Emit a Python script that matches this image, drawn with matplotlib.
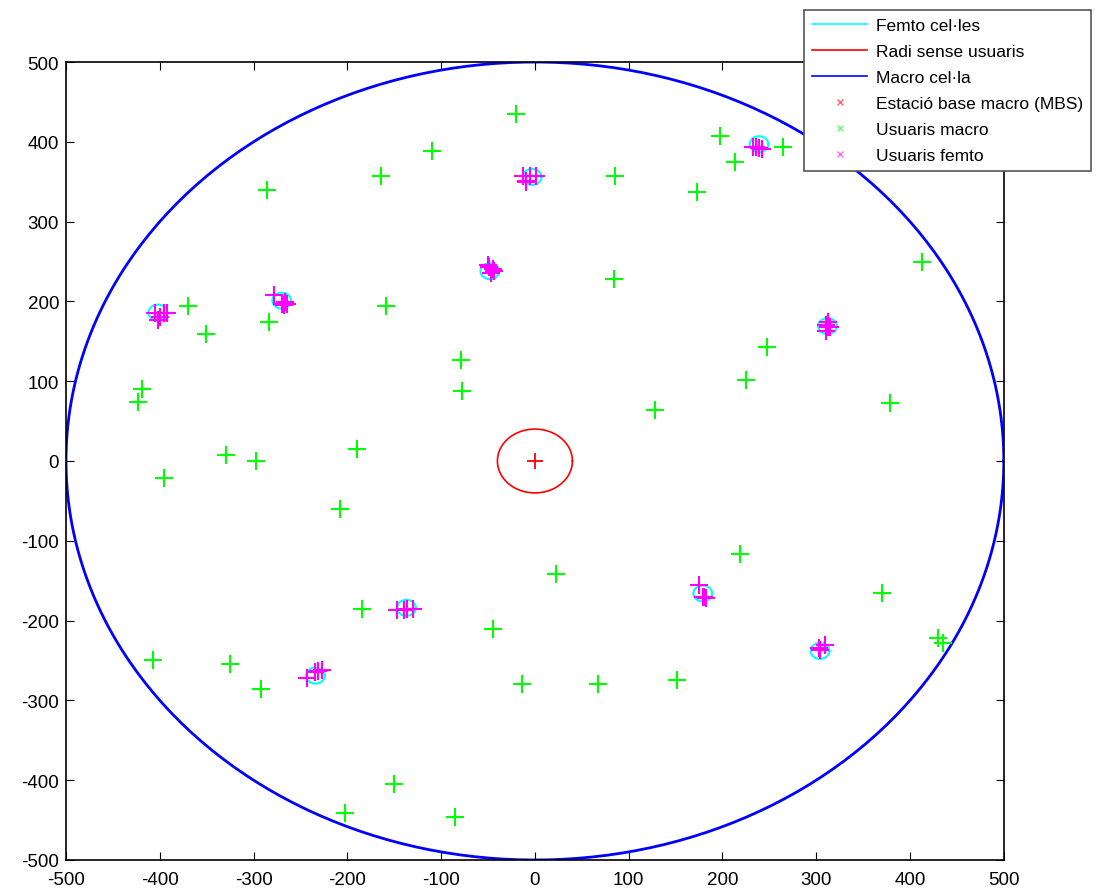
import numpy as np
import matplotlib.pyplot as plt
from matplotlib.lines import Line2D

plt.rcParams['font.family'] = ['Liberation Sans', 'DejaVu Sans']
plt.rcParams['axes.unicode_minus'] = False

# radis (m)
macro_radius = 500
no_user_radius = 40
femto_radius = 10

# estacions femto (centres)
femto_x = [-402, -270, -3, -48, 239, 312, 179, 304, -137, -234]
femto_y = [186, 201, 356, 238, 397, 169, -166, -238, -184, -269]

# usuaris macro
macro_ux = [-20, -110, 197, 213, 265, -164, 85, 173, -286, -370, -351, -284, -159,
            84, 413, 247, 225, -79, -78, 128, 379, -419, -423, -329, -297, -190,
            -396, -208, 23, 219, 370, -184, -45, -407, -325, -292, -14, 67, 151,
            430, 435, -150, -202, -85]
macro_uy = [435, 388, 407, 375, 393, 357, 357, 337, 340, 194, 159, 174, 194,
            228, 249, 143, 102, 127, 88, 64, 73, 90, 74, 8, 0, 15,
            -21, -60, -141, -117, -165, -186, -211, -250, -255, -286, -280, -280, -275,
            -222, -228, -405, -441, -446]

# usuaris femto
femto_ux = [-405, -400, -396, -392, -402,
            -278, -268, -264, -270, -266,
            -13, -9, -5, 1, -10,
            -50, -45, -47, -49, -44,
            233, 239, 242, 236,
            312, 315, 310, 313, 310,
            175, 180, 182, 179,
            304, 309, 303,
            -147, -140, -136, -130,
            -243, -235, -231, -227]
femto_uy = [186, 181, 185, 186, 177,
            208, 196, 197, 197, 199,
            357, 351, 357, 357, 350,
            245, 240, 236, 243, 238,
            394, 392, 391, 393,
            174, 168, 163, 168, 171,
            -156, -171, -172, -170,
            -237, -230, -234,
            -187, -187, -185, -185,
            -272, -265, -263, -262]

fig = plt.figure(figsize=(11.02, 8.95), dpi=100)
ax = fig.add_axes([0.0599, 0.038, 0.851, 0.8916])

t = np.linspace(0, 2 * np.pi, 400)
for cx, cy in zip(femto_x, femto_y):
    ax.plot(cx + femto_radius * np.cos(t), cy + femto_radius * np.sin(t), color='cyan', lw=1.5)
ax.plot(no_user_radius * np.cos(t), no_user_radius * np.sin(t), color='red', lw=1.2)
ax.plot(macro_radius * np.cos(t), macro_radius * np.sin(t), color='blue', lw=2)

ax.plot([0], [0], '+', color='red', ms=12, mew=1.3)
ax.plot(macro_ux, macro_uy, '+', color='#00ff00', ms=13, mew=1.5, linestyle='None')
ax.plot(femto_ux, femto_uy, '+', color='magenta', ms=13, mew=1.5, linestyle='None')

ax.set_xlim(-500, 500)
ax.set_ylim(-500, 500)
ax.set_xticks(np.arange(-500, 501, 100))
ax.set_yticks(np.arange(-500, 501, 100))
ax.tick_params(direction='in', length=6, labelsize=13.5, top=True, right=True)
ax.tick_params(axis='x', pad=8)
ax.tick_params(axis='y', pad=5)
for s in ax.spines.values():
    s.set_linewidth(1.2)

handles = [
    Line2D([], [], color='cyan', lw=1.2),
    Line2D([], [], color='red', lw=1.2),
    Line2D([], [], color='blue', lw=1.2),
    Line2D([], [], color='red', marker='x', ls='None', ms=5, alpha=0.6),
    Line2D([], [], color='#00ff00', marker='x', ls='None', ms=5, alpha=0.6),
    Line2D([], [], color='magenta', marker='x', ls='None', ms=5, alpha=0.6),
]
labels = ['Femto cel·les', 'Radi sense usuaris', 'Macro cel·la',
          'Estació base macro (MBS)', 'Usuaris macro', 'Usuaris femto']
leg = fig.legend(handles, labels, loc='upper right', bbox_to_anchor=(0.998, 0.997),
                 fontsize=12.5, frameon=True, fancybox=False, edgecolor='#555555',
                 framealpha=1, handlelength=3.2, handletextpad=0.5,
                 labelspacing=0.62, borderpad=0.45)
leg.get_frame().set_linewidth(1.2)

fig.savefig('out.png', dpi=100)
